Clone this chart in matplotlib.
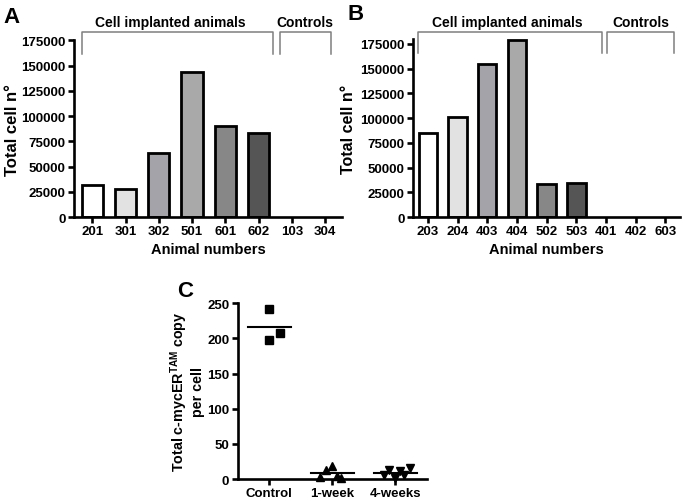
import matplotlib
matplotlib.use('Agg')
import matplotlib.pyplot as plt
import numpy as np

plt.rcParams['font.family'] = ['Liberation Sans', 'DejaVu Sans']
plt.rcParams['font.weight'] = 'bold'
plt.rcParams['mathtext.fontset'] = 'custom'
plt.rcParams['mathtext.rm'] = 'Liberation Sans:bold'
plt.rcParams['mathtext.bf'] = 'Liberation Sans:bold'
plt.rcParams['mathtext.default'] = 'bf'

# --- data ---
animals_a = ['201', '301', '302', '501', '601', '602', '103', '304']
cells_a = [32000, 28000, 63500, 144000, 90000, 83000, 0, 0]
colors_a = ['#ffffff', '#e2e2e2', '#a3a3a9', '#a9a9a9', '#878787', '#555555', '#ffffff', '#ffffff']

animals_b = ['203', '204', '403', '404', '502', '503', '401', '402', '603']
cells_b = [85000, 101000, 155000, 179000, 33500, 34500, 0, 0, 0]
colors_b = ['#ffffff', '#e2e2e2', '#a3a3a9', '#a9a9a9', '#878787', '#555555', '#ffffff', '#ffffff', '#ffffff']

groups_c = ['Control', '1-week', '4-weeks']
control_vals = [242, 198, 208]
week1_vals = [3, 13, 18, 4, 2]
week4_vals = [6, 13, 2, 12, 6, 15]

fig = plt.figure(figsize=(6.85, 5.02), dpi=100)

def style_axes(ax, size=9.5):
    for s in ['top', 'right']:
        ax.spines[s].set_visible(False)
    for s in ['left', 'bottom']:
        ax.spines[s].set_linewidth(1.9)
    ax.tick_params(axis='both', direction='out', width=1.9, length=4,
                   labelsize=size, pad=2)
    for lab in ax.get_xticklabels() + ax.get_yticklabels():
        lab.set_fontweight('bold')

def place_ylabel(ax, xpos):
    # centre of the rotated label, in axes fraction
    ax.yaxis.label.set_verticalalignment('center')
    ax.yaxis.set_label_coords(xpos, 0.5)

def bracket(ax, x0, x1, ytop, ybot, label, xtext, ytext):
    ax.plot([x0, x0, x1, x1], [ybot, ytop, ytop, ybot], color='#7f7f7f',
            lw=1.1, clip_on=False)
    ax.text(xtext, ytext, label, ha='center', va='center', fontsize=10,
            fontweight='bold', clip_on=False)

def draw_bars(ax, x, vals, colors, width):
    # zero values have no visible bar in the original
    lws = [2.0 if v > 0 else 0 for v in vals]
    ax.bar(x, vals, width=width, color=colors, edgecolor='black', linewidth=lws)

# Panel A
axA = fig.add_axes([0.108, 0.5655, 0.391, 0.352])
xa = np.arange(len(animals_a))
draw_bars(axA, xa, cells_a, colors_a, 0.64)
axA.set_xlim(-0.55, 7.5)
axA.set_ylim(0, 175000)
axA.set_yticks(np.arange(0, 175001, 25000))
axA.set_xticks(xa)
axA.set_xticklabels(animals_a)
style_axes(axA)
axA.set_ylabel('Total cell n°', fontsize=12, fontweight='bold')
place_ylabel(axA, -0.228)
axA.set_xlabel('Animal numbers', fontsize=10.5, fontweight='bold', labelpad=3)
bracket(axA, -0.3, 5.43, 183300, 161500, 'Cell implanted animals', 2.35, 193000)
bracket(axA, 5.65, 7.18, 183300, 161500, 'Controls', 6.4, 193000)

# Panel B
axB = fig.add_axes([0.603, 0.5655, 0.390, 0.355])
xb = np.arange(len(animals_b))
draw_bars(axB, xb, cells_b, colors_b, 0.62)
axB.set_xlim(-0.5, 8.5)
axB.set_ylim(0, 180000)
axB.set_yticks(np.arange(0, 175001, 25000))
axB.set_xticks(xb)
axB.set_xticklabels(animals_b)
style_axes(axB)
axB.set_ylabel('Total cell n°', fontsize=11.5, fontweight='bold')
place_ylabel(axB, -0.243)
axB.set_xlabel('Animal numbers', fontsize=10.5, fontweight='bold', labelpad=3)
bracket(axB, -0.34, 5.88, 187200, 166000, 'Cell implanted animals', 2.67, 197000)
bracket(axB, 6.05, 8.28, 187200, 166000, 'Controls', 7.18, 197000)

# Panel C
axC = fig.add_axes([0.347, 0.0438, 0.276, 0.350])
offsets = [[0.0, 0.0, 0.17],
           [-0.19, -0.1, 0.0, 0.07, 0.14],
           [-0.18, -0.1, 0.0, 0.07, 0.14, 0.24]]
markers = ['s', '^', 'v']
msizes = [6, 5.5, 5.5]
for i, vals in enumerate([control_vals, week1_vals, week4_vals]):
    xs = i + np.array(offsets[i])
    axC.plot(xs, vals, linestyle='none', marker=markers[i], color='black',
             markersize=msizes[i], clip_on=False, zorder=3)
    m = np.mean(vals)
    axC.plot([i - 0.34, i + 0.34], [m, m], color='black', lw=1.5, zorder=2)
axC.set_xlim(-0.5, 2.5)
axC.set_ylim(0, 250)
axC.set_yticks(np.arange(0, 251, 50))
axC.set_xticks(range(len(groups_c)))
axC.set_xticklabels(groups_c)
style_axes(axC, size=9.5)
axC.set_ylabel('Total c-mycER$^{TAM}$ copy\nper cell', fontsize=10.3,
               fontweight='bold', multialignment='center', linespacing=1.05)
place_ylabel(axC, -0.27)

fig.text(0.005, 0.965, 'A', fontsize=16, fontweight='bold', va='center')
fig.text(0.508, 0.972, 'B', fontsize=16, fontweight='bold', va='center')
fig.text(0.258, 0.420, 'C', fontsize=16, fontweight='bold', va='center')

fig.savefig('out.png', dpi=100)
